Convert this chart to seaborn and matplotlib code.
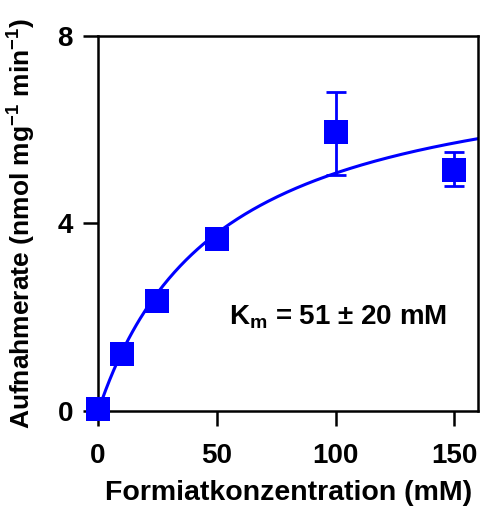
import numpy as np
import pandas as pd
import seaborn as sns
import matplotlib.pyplot as plt

# measured uptake rates
conc = [0, 10, 25, 50, 100, 150]
rate = [0.04, 1.21, 2.34, 3.66, 5.94, 5.15]
err_lo = [0, 0, 0, 0, 0.90, 0.36]
err_hi = [0, 0, 0, 0, 0.87, 0.38]

# Michaelis-Menten fit parameters
km = 51
vmax = 7.66

sns.set_style('ticks')
plt.rcParams['font.family'] = ['Liberation Sans', 'DejaVu Sans']
plt.rcParams['font.weight'] = 'bold'
plt.rcParams['text.color'] = 'black'
plt.rcParams['axes.labelcolor'] = 'black'
plt.rcParams['xtick.color'] = 'black'
plt.rcParams['ytick.color'] = 'black'
plt.rcParams['axes.edgecolor'] = 'black'
plt.rcParams['mathtext.fontset'] = 'custom'
plt.rcParams['mathtext.rm'] = 'Liberation Sans:bold'
plt.rcParams['mathtext.bf'] = 'Liberation Sans:bold'
plt.rcParams['mathtext.it'] = 'Liberation Sans:bold'

blue = '#0000FF'
fig = plt.figure(figsize=(4.81, 5.12), dpi=100)
ax = fig.add_axes([0.204, 0.197, 0.79, 0.733])

xs = np.linspace(0, 160, 200)
fit = pd.DataFrame({'x': xs, 'y': vmax * xs / (km + xs)})
sns.lineplot(data=fit, x='x', y='y', color=blue, lw=2.2, ax=ax)

ax.errorbar(conc, rate, yerr=[err_lo, err_hi], fmt='none', ecolor=blue,
            elinewidth=2, capsize=7, capthick=2, clip_on=False, zorder=3)
pts = pd.DataFrame({'c': conc, 'r': rate})
sns.scatterplot(data=pts, x='c', y='r', marker='s', s=300, color=blue,
                edgecolor=blue, linewidth=0, ax=ax, clip_on=False, zorder=4)

ax.set_xlim(0, 160)
ax.set_ylim(0, 8)
ax.set_xticks([0, 50, 100, 150])
ax.set_yticks([0, 4, 8])
ax.tick_params(labelsize=20, width=1.8, length=11, pad=7)
ax.tick_params(axis='x', pad=12)
for s in ax.spines.values():
    s.set_linewidth(1.8)

ax.set_xlabel('Formiatkonzentration (mM)', fontsize=20.5, fontweight='bold', labelpad=8)
ax.set_ylabel('Aufnahmerate (nmol mg$^{-1}$ min$^{-1}$)', fontsize=19,
              fontweight='bold', labelpad=14)
ax.text(101, 2.0, 'K$_{m}$ = 51 ± 20 mM', fontsize=20, fontweight='bold',
        ha='center', va='center')

plt.savefig('out.png', dpi=100)
